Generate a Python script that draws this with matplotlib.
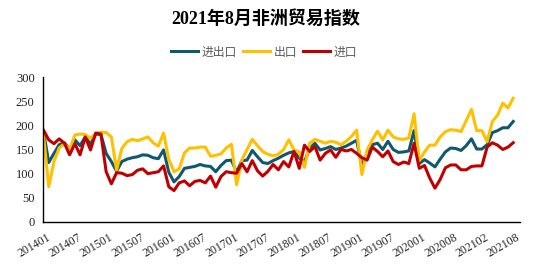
import matplotlib.pyplot as plt
from matplotlib import transforms

# 月度指数, 201401 - 202108 (缺一个月)
total = [187, 123, 142, 160, 164, 151, 170, 158, 176, 161,
         182, 181, 142, 125, 105, 125, 130, 133, 135, 139,
         138, 133, 131, 149, 103, 83, 94, 111, 113, 115,
         119, 116, 115, 104, 117, 127, 128, 103, 127, 128,
         148, 135, 123, 121, 127, 132, 138, 143, 146, 132,
         125, 152, 163, 149, 152, 156, 150, 153, 157, 163,
         169, 115, 141, 160, 163, 150, 167, 150, 144, 145,
         147, 189, 121, 129, 122, 114, 130, 145, 153, 152,
         148, 158, 172, 151, 151, 160, 185, 189, 195, 195, 208]
exports = [180, 73, 125, 153, 162, 150, 180, 182, 181, 173,
           183, 186, 185, 176, 107, 152, 166, 171, 168, 172,
           176, 164, 157, 184, 130, 104, 110, 143, 153, 153,
           155, 155, 136, 138, 141, 153, 161, 77, 128, 150,
           171, 158, 146, 140, 137, 140, 150, 170, 149, 145,
           113, 163, 171, 167, 163, 167, 165, 160, 167, 177,
           190, 98, 149, 170, 188, 170, 190, 176, 172, 171,
           174, 224, 127, 145, 159, 159, 176, 187, 191, 190,
           187, 210, 233, 189, 189, 166, 208, 221, 246, 236, 256]
imports = [190, 170, 162, 172, 163, 139, 162, 139, 176, 149,
           184, 182, 104, 79, 102, 101, 96, 98, 107, 110,
           100, 102, 104, 116, 73, 65, 81, 85, 75, 84,
           86, 81, 95, 72, 94, 104, 102, 101, 121, 104,
           127, 106, 95, 105, 119, 108, 125, 114, 146, 111,
           159, 146, 156, 128, 142, 149, 134, 150, 147, 150,
           142, 133, 128, 155, 146, 135, 147, 125, 119, 124,
           121, 163, 111, 117, 91, 70, 88, 112, 118, 118,
           108, 108, 115, 116, 116, 155, 164, 159, 150, 155, 164]
tick_labels = ['201401', '201407', '201501', '201507', '201601', '201607',
               '201701', '201707', '201801', '201807', '201901', '201907',
               '202001', '202008', '202102', '202108']

serif = ['Liberation Serif', 'Noto Sans CJK SC']
cjk = ['Noto Sans CJK SC', 'DejaVu Sans']

fig = plt.figure(figsize=(5.34, 2.67), dpi=100)
ax = fig.add_axes([43 / 534, 45 / 267, 477 / 534, 145 / 267])

x = list(range(len(total)))
ax.plot(x, total, color='#10586E', lw=2.2, label='进出口')
ax.plot(x, exports, color='#FFC000', lw=2.2, label='出口')
ax.plot(x, imports, color='#C00000', lw=2.2, label='进口')

ax.set_xlim(-0.1, 91.3)
ax.set_ylim(0, 300)
ax.set_yticks(range(0, 301, 50))
ax.set_xticks(x[::6])
ax.set_xticklabels(tick_labels, rotation=30, ha='right', va='top',
                   rotation_mode='anchor', family=serif, fontsize=8.5, color='#222222')
for lab in ax.get_yticklabels():
    lab.set_family(serif)
    lab.set_fontsize(9)
    lab.set_color('#222222')
ax.tick_params(axis='both', length=0)
ax.tick_params(axis='y', pad=6)
ax.tick_params(axis='x', pad=7)

offset = transforms.ScaledTranslation(0.03, 0, fig.dpi_scale_trans)
for lab in ax.get_xticklabels():
    lab.set_transform(lab.get_transform() + offset)

for side in ['top', 'right']:
    ax.spines[side].set_visible(False)
for side in ['left', 'bottom']:
    ax.spines[side].set_color('black')
    ax.spines[side].set_linewidth(1)

fig.text(0.498, 0.929, '2021年8月非洲贸易指数', ha='center', va='center',
         family=serif, fontsize=13, fontweight='bold', color='black')

leg = fig.legend(loc='center', bbox_to_anchor=(0.495, 0.805), ncol=3, frameon=False,
                 prop={'family': cjk, 'size': 8.5}, handlelength=2.3,
                 handletextpad=0.3, columnspacing=0.5)
for t in leg.get_texts():
    t.set_color('#595959')

fig.savefig('out.png', dpi=100)
